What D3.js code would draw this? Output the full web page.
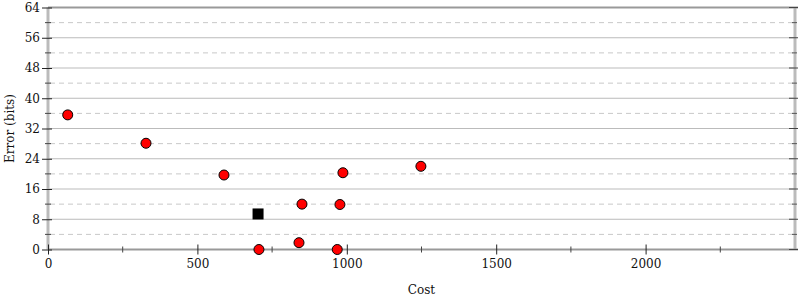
<!DOCTYPE html>
<html>
<head>
<meta charset="utf-8">
<script src="https://cdn.jsdelivr.net/npm/d3@7"></script>
<style>
  body { margin: 0; background: #fff; }
  svg { font-family: "DejaVu Serif", serif; }
  .grid-major { stroke: #bbb; stroke-width: 1; }
  .grid-minor { stroke: #c8c8c8; stroke-width: 1; stroke-dasharray: 5,4; }
  text { fill: #111; font-size: 12px; }
</style>
</head>
<body>
<svg width="800" height="300"></svg>
<script>
// data points (cost, error bits)
const costs = [66, 328, 589, 987, 1248, 850, 977, 706, 840, 968];
const errors = [35.6, 28.1, 19.7, 20.3, 22.0, 12.0, 11.9, 0, 1.8, 0];
// the single highlighted square point
const bestCost = [703];
const bestError = [9.4];

const xTicks = [0, 500, 1000, 1500, 2000];
const xMinorTicks = [250, 750, 1250, 1750, 2250];
const yTicks = [0, 8, 16, 24, 32, 40, 48, 56, 64];
const yMinorTicks = [4, 12, 20, 28, 36, 44, 52, 60];

const svg = d3.select("svg");

const x = d3.scaleLinear().domain([0, 2500]).range([48, 795]);
const y = d3.scaleLinear().domain([0, 64]).range([249.5, 7.5]);

// gridlines
svg.append("g")
  .selectAll("line")
  .data(yTicks.slice(1, -1))
  .enter()
  .append("line")
  .attr("class", "grid-major")
  .attr("x1", x(0))
  .attr("x2", x(2500))
  .attr("y1", (d) => y(d))
  .attr("y2", (d) => y(d));

svg.append("g")
  .selectAll("line")
  .data(yMinorTicks)
  .enter()
  .append("line")
  .attr("class", "grid-minor")
  .attr("x1", x(0) + 2)
  .attr("x2", x(2500) - 2)
  .attr("y1", (d) => y(d))
  .attr("y2", (d) => y(d));

// frame: left and right light, top and bottom darker
svg.append("line")
  .attr("x1", x(0)).attr("x2", x(0))
  .attr("y1", y(64)).attr("y2", y(0))
  .attr("stroke", "#bbb").attr("stroke-width", 3);
svg.append("line")
  .attr("x1", x(2500)).attr("x2", x(2500))
  .attr("y1", y(64)).attr("y2", y(0))
  .attr("stroke", "#bbb").attr("stroke-width", 3);
svg.append("line")
  .attr("x1", x(0)).attr("x2", 798)
  .attr("y1", y(64)).attr("y2", y(64))
  .attr("stroke", "#999").attr("stroke-width", 2);
svg.append("line")
  .attr("x1", x(0)).attr("x2", 798)
  .attr("y1", y(0)).attr("y2", y(0))
  .attr("stroke", "#999").attr("stroke-width", 2);

// left axis ticks + labels
const yAxis = d3.axisLeft(y).tickValues(yTicks).tickFormat(d3.format("d")).tickSize(5).tickPadding(3);
const yAxisG = svg.append("g")
  .attr("transform", `translate(${x(0) + 4},0)`)
  .call(yAxis);
yAxisG.select(".domain").remove();
yAxisG.selectAll(".tick line").attr("x2", -10).attr("stroke", "#222");
yAxisG.selectAll(".tick text")
  .attr("x", -12)
  .style("font-family", "DejaVu Serif, serif")
  .style("font-size", "12px")
  .attr("fill", "#111");

svg.append("g")
  .selectAll("line")
  .data(yMinorTicks)
  .enter()
  .append("line")
  .attr("x1", x(0) - 3)
  .attr("x2", x(0) + 3)
  .attr("y1", (d) => y(d))
  .attr("y2", (d) => y(d))
  .attr("stroke", "#444");

// right side ticks
svg.append("g")
  .selectAll("line")
  .data(yTicks)
  .enter()
  .append("line")
  .attr("x1", x(2500) - 6)
  .attr("x2", x(2500) + 3)
  .attr("y1", (d) => y(d))
  .attr("y2", (d) => y(d))
  .attr("stroke", "#444");
svg.append("g")
  .selectAll("line")
  .data(yMinorTicks)
  .enter()
  .append("line")
  .attr("x1", x(2500) - 3)
  .attr("x2", x(2500) + 2)
  .attr("y1", (d) => y(d))
  .attr("y2", (d) => y(d))
  .attr("stroke", "#555");

// bottom axis
const xAxis = d3.axisBottom(x).tickValues(xTicks).tickFormat(d3.format("d")).tickSize(5).tickPadding(5);
const xAxisG = svg.append("g")
  .attr("transform", `translate(0,${y(0)})`)
  .call(xAxis);
xAxisG.select(".domain").remove();
xAxisG.selectAll(".tick line").attr("y1", -5).attr("stroke", "#222");
xAxisG.selectAll(".tick text")
  .style("font-family", "DejaVu Serif, serif")
  .style("font-size", "12px")
  .attr("fill", "#111");

svg.append("g")
  .selectAll("line")
  .data(xMinorTicks)
  .enter()
  .append("line")
  .attr("x1", (d) => x(d))
  .attr("x2", (d) => x(d))
  .attr("y1", y(0) - 3)
  .attr("y2", y(0) + 3)
  .attr("stroke", "#444");

// axis titles
svg.append("text")
  .attr("x", (x(0) + x(2500)) / 2)
  .attr("y", 294)
  .attr("text-anchor", "middle")
  .text("Cost");

svg.append("text")
  .attr("transform", `translate(14,${(y(0) + y(64)) / 2}) rotate(-90)`)
  .attr("text-anchor", "middle")
  .text("Error (bits)");

// points
svg.append("g")
  .selectAll("circle")
  .data(costs)
  .enter()
  .append("circle")
  .attr("cx", (d) => x(d))
  .attr("cy", (d, i) => y(errors[i]))
  .attr("r", 5)
  .attr("fill", "#f00")
  .attr("stroke", "#000")
  .attr("stroke-width", 1);

svg.append("g")
  .selectAll("rect")
  .data(bestCost)
  .enter()
  .append("rect")
  .attr("x", (d) => x(d) - 5.5)
  .attr("y", (d, i) => y(bestError[i]) - 5.5)
  .attr("width", 11)
  .attr("height", 11)
  .attr("fill", "#000");
</script>
</body>
</html>
